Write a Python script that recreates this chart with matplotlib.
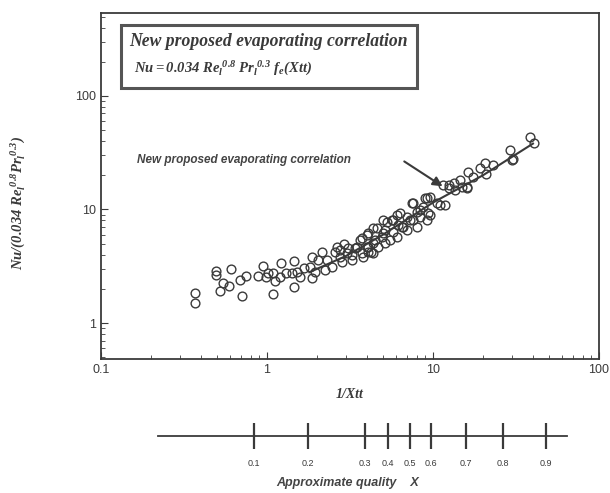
import numpy as np
import matplotlib
matplotlib.use("Agg")
import matplotlib.pyplot as plt

# measured points: 1/Xtt and Nu/(0.034 Re^0.8 Pr^0.3)
inv_xtt = [0.37, 0.37, 0.49, 0.49, 0.61, 0.52, 0.54, 0.59, 0.69, 0.75,
           0.71, 0.88, 0.95, 0.99, 1.02, 1.08, 1.09, 1.11, 1.20, 1.21,
           1.31, 1.41, 1.46, 1.46, 1.51, 1.58, 1.66, 1.82, 1.86, 1.86,
           1.95, 2.04, 2.13, 2.23, 2.29, 2.45, 2.57, 2.75, 2.82, 3.02,
           3.24, 3.39, 3.63, 3.80, 4.07, 4.37, 4.37, 2.89, 3.09, 4.07,
           4.58, 4.91, 5.14, 5.26, 5.77, 6.04, 6.18, 6.32, 6.62, 7.45,
           7.62, 7.98, 8.36, 8.75, 8.96, 9.38, 9.60, 11.8, 12.4, 13.6,
           14.9, 16.1, 16.3, 17.5, 19.2, 20.6, 21.0, 23.1, 29.1, 29.8,
           38.4, 40.6, 30.5, 16.1, 14.6, 13.4, 12.4, 11.5, 11.0, 10.5,
           9.16, 9.60, 8.36, 7.62, 7.27, 6.48, 6.04, 5.64, 5.02, 5.14,
           4.37, 4.47, 3.99, 3.72, 4.07, 3.72, 2.63, 2.75, 3.24, 3.50,
           3.99, 4.21, 4.69, 5.02, 5.51, 5.77, 6.93, 6.93, 7.98, 9.16]
nu_ratio = [1.85, 1.51, 2.89, 2.65, 2.99, 1.91, 2.27, 2.12, 2.39, 2.59,
            1.73, 2.59, 3.20, 2.53, 2.74, 1.80, 2.74, 2.34, 2.56, 3.40,
            2.77, 2.74, 3.54, 2.06, 2.83, 2.56, 3.03, 3.13, 2.48, 3.84,
            2.83, 3.59, 4.25, 2.93, 3.59, 3.13, 4.25, 4.40, 3.47, 4.11,
            3.59, 4.55, 5.38, 3.84, 4.70, 5.04, 4.11, 4.97, 4.55, 6.17,
            6.83, 5.75, 5.04, 7.81, 6.38, 5.75, 7.30, 9.25, 7.05, 11.3,
            8.08, 9.57, 8.65, 10.6, 12.6, 9.25, 13.0, 11.0, 16.4, 14.9,
            15.9, 15.7, 21.5, 19.5, 23.1, 25.5, 20.5, 24.7, 33.4, 27.3,
            43.8, 38.8, 27.7, 15.4, 18.2, 17.0, 15.4, 16.4, 11.0, 11.3,
            12.6, 8.95, 9.90, 11.3, 8.08, 7.05, 8.95, 8.08, 8.08, 6.60,
            6.83, 5.38, 5.96, 5.57, 4.25, 4.11, 4.70, 3.84, 3.97, 4.70,
            4.70, 4.25, 4.70, 6.17, 5.38, 8.08, 8.65, 6.60, 7.05, 8.08]

# correlation curve
corr_x = [1.8, 3.0, 5.0, 10.0, 20.0, 40.0]
corr_y = [2.8, 3.9, 6.0, 11.5, 20.0, 38.0]

# approximate quality scale, placed at its 1/Xtt positions
quality = ["0.1", "0.2", "0.3", "0.4", "0.5", "0.6", "0.7", "0.8", "0.9"]
quality_pos = [0.836, 1.77, 3.89, 5.36, 7.27, 9.73, 15.8, 26.4, 48.0]
quality_span = [0.22, 64.0]

ink = "#3a3a3a"
plt.rcParams["mathtext.fontset"] = "custom"
plt.rcParams["mathtext.rm"] = "Liberation Serif:bold:italic"
plt.rcParams["mathtext.it"] = "Liberation Serif:bold:italic"
plt.rcParams["mathtext.bf"] = "Liberation Serif:bold:italic"

fig = plt.figure(figsize=(6.10, 4.93), dpi=100)
ax = fig.add_axes([101/610, 1-359/493, 498/610, 346/493])

ax.plot(inv_xtt, nu_ratio, "o", ms=6.3, mfc="none", mec=ink, mew=1.0)
ax.plot(corr_x, corr_y, "-", color=ink, lw=1.5)

ax.set_xscale("log")
ax.set_yscale("log")
ax.set_xlim(0.1, 100)
ax.set_ylim(0.482, 537)
ax.set_xticks([0.1, 1, 10, 100])
ax.set_xticklabels(["0.1", "1", "10", "100"])
ax.set_yticks([1, 10, 100])
ax.set_yticklabels(["1", "10", "100"])
ax.tick_params(which="both", direction="in", colors=ink, labelsize=9)
ax.tick_params(which="major", length=5)
ax.tick_params(which="minor", length=3)
for lab in ax.get_xticklabels() + ax.get_yticklabels():
    lab.set_family("Liberation Sans")
for s in ax.spines.values():
    s.set_color(ink)
    s.set_linewidth(1.3)

ax.set_xlabel("1/Xtt", family="Liberation Serif", style="italic",
              weight="bold", fontsize=10, color=ink, labelpad=9)
fig.text(18/610, 1-203/493, r"$Nu/(0.034\ Re_l^{\ 0.8}Pr_l^{\ 0.3})$",
         rotation=90, ha="center", va="center", fontsize=10.5, color=ink)

# title box
fig.patches.append(plt.Rectangle((121/610, 1-88/493), 296/610, 63/493,
                                 transform=fig.transFigure, fill=False,
                                 ec="#555555", lw=2.2))
fig.text(129/610, 1-46/493, "New proposed evaporating correlation",
         family="Liberation Serif", style="italic", weight="bold",
         fontsize=12.7, color=ink, va="baseline")
fig.text(134/610, 1-73/493,
         r"$Nu = 0.034\ Re_l^{\ 0.8}\ Pr_l^{\ 0.3}\ f_e(Xtt)$",
         fontsize=10.5, color=ink, va="baseline")

# arrow to the curve
ax.text(0.165, 27.3, "New proposed evaporating correlation",
        family="Liberation Sans", style="italic", weight="bold",
        fontsize=8.5, color="#444444", va="center")
ax.annotate("", xy=(11.8, 15.5), xytext=(6.5, 27.3),
            arrowprops=dict(arrowstyle="-|>", color=ink, lw=1.5,
                            mutation_scale=14))

# quality scale
ax2 = fig.add_axes([101/610, 1-452/493, 498/610, 32/493])
ax2.set_xscale("log")
ax2.set_xlim(0.1, 100)
ax2.set_ylim(-1, 1)
ax2.axis("off")
ax2.plot(quality_span, [0, 0], color=ink, lw=1.3)
ax2.vlines(quality_pos, -0.81, 0.81, color=ink, lw=1.6)
for q, p in zip(quality, quality_pos):
    ax2.text(p, -1.7, q, ha="center", va="center", fontsize=6.5,
             family="Liberation Sans", color=ink, clip_on=False)
fig.text(348/610, 1-483/493, "Approximate quality    X",
         family="Liberation Sans", style="italic", weight="bold",
         fontsize=9, color="#444444", ha="center", va="center")

fig.savefig("out.png", dpi=100)
